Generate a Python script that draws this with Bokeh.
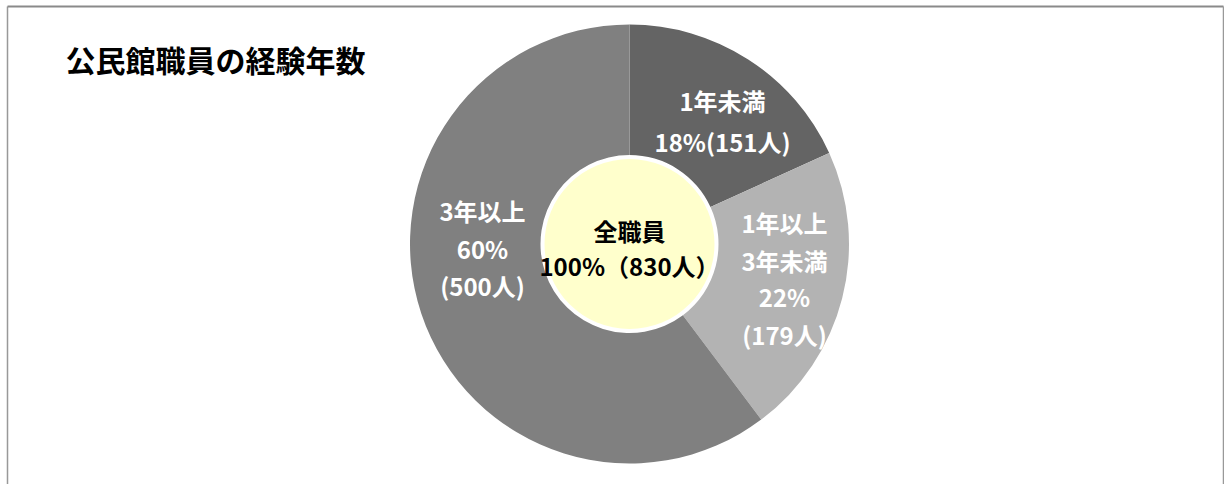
import math
from bokeh.plotting import figure
from bokeh.models import Range1d, ColumnDataSource
from bokeh.core.properties import value
from bokeh.embed import file_html
from bokeh.resources import INLINE

# ---- data ----
categories = ["1年未満", "1年以上3年未満", "3年以上"]
counts = [151, 179, 500]
percents = ["18%", "22%", "60%"]
colors = ["#646464", "#b3b3b3", "#808080"]
total_label = ["全職員", "100%（830人）"]
title_text = "公民館職員の経験年数"

# label lines for each slice (text) and their positions (layout, page px)
label_lines = [
    ["1年未満", "18%(151人)"],
    ["1年以上", "3年未満", "22%", "(179人)"],
    ["3年以上", "60%", "(500人)"],
]
label_pos = [
    (722, [100, 141]),
    (784, [222, 260, 296, 334]),
    (482, [210, 248, 285]),
]

W, H = 1224, 484


def py(y):
    """page pixel y -> data y"""
    return H - y


p = figure(width=W, height=H, output_backend="svg", toolbar_location=None,
           x_range=Range1d(0, W), y_range=Range1d(0, H),
           min_border=0, background_fill_color="white", border_fill_color="white")
p.axis.visible = False
p.grid.visible = False
p.outline_line_color = None

cx, cy = 629, py(243.5)
R_out, R_in, R_yel = 219.5, 89, 85

total = sum(counts)
starts, ends = [], []
acc = 0
for c in counts:
    starts.append(math.pi / 2 - acc / total * 2 * math.pi)
    acc += c
    ends.append(math.pi / 2 - acc / total * 2 * math.pi)

src = ColumnDataSource(dict(x=[cx] * 3, y=[cy] * 3, start=starts, end=ends,
                            color=colors, cat=categories, n=counts))
p.annular_wedge(x="x", y="y", inner_radius=R_in, outer_radius=R_out,
                start_angle="start", end_angle="end", direction="clock",
                fill_color="color", line_color=None, source=src)

# center circle
p.circle(x=[cx], y=[cy], radius=R_yel, fill_color="#ffffcc", line_color=None)

font = value("Noto Sans CJK JP")

# slice labels
for lines, (lx, lys) in zip(label_lines, label_pos):
    p.text(x=[lx] * len(lines), y=[py(v) for v in lys], text=lines,
           text_font=font, text_font_style="bold", text_font_size="24px",
           text_color="white", text_align="center", text_baseline="middle")

# center labels
p.text(x=[cx, cx], y=[py(230), py(265)], text=total_label,
       text_font=font, text_font_style="bold", text_font_size="24px",
       text_color="black", text_align="center", text_baseline="middle")

# title
p.text(x=[215], y=[py(58)], text=[title_text], text_font=font,
       text_font_style="bold", text_font_size="30px", text_color="black",
       text_align="center", text_baseline="middle")

# chart border (top, left, right; bottom cut off)
p.line(x=[7, 7], y=[py(484), py(6)], line_color="#999999", line_width=1.5)
p.line(x=[7, 1223], y=[py(6), py(6)], line_color="#8a8a8a", line_width=2)
p.line(x=[1223, 1223], y=[py(6), py(484)], line_color="#999999", line_width=1.5)

open("out.html", "w").write(file_html(p, INLINE))
